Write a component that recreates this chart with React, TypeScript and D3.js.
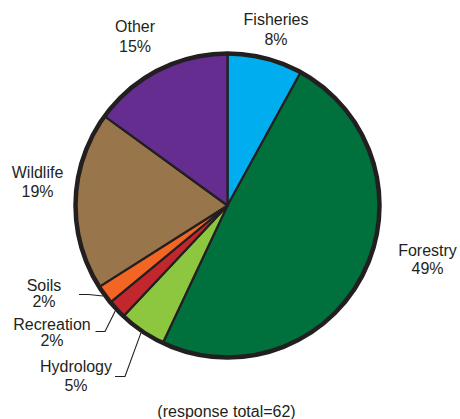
import React from "react";
import * as d3 from "d3";

// Share of responses by discipline, clockwise from 12 o'clock
const categories = ["Fisheries", "Forestry", "Hydrology", "Recreation", "Soils", "Wildlife", "Other"];
const percents = [8, 49, 5, 2, 2, 19, 15];
const colors = ["#00aeef", "#00703c", "#8dc63f", "#c1272d", "#f26522", "#98754a", "#662d91"];
const footnote = "(response total=62)";

const W = 460;
const H = 419;
const cx = 227.5;
const cy = 205.5;
const R = 152;
const ink = "#231f20";
const font = "'Liberation Sans', Arial, sans-serif";

// Label placement per category: centre x, first baseline y, line gap
type Lab = { x: number; y: number; gap: number };
const labelLayout: Record<string, Lab> = {
  Fisheries: { x: 276, y: 25, gap: 20 },
  Forestry: { x: 427.5, y: 256, gap: 18 },
  Hydrology: { x: 76, y: 372, gap: 19 },
  Recreation: { x: 52, y: 330, gap: 16 },
  Soils: { x: 44, y: 291, gap: 16 },
  Wildlife: { x: 37.5, y: 178, gap: 19 },
  Other: { x: 135, y: 32, gap: 20 },
};
// [x start, x bend, y] of the horizontal part of each leader
const leaders: Record<string, [number, number, number]> = {
  Soils: [79, 88.5, 294.5],
  Recreation: [95.5, 105, 331.5],
  Hydrology: [115, 125, 376.5],
};

export default function App() {
  const pie = d3
    .pie<number>()
    .sort(null)
    .value((d) => d)
    .startAngle(0)
    .endAngle(2 * Math.PI);
  const arcs = pie(percents);
  const arc = d3.arc<d3.PieArcDatum<number>>().innerRadius(0).outerRadius(R);

  return (
    <svg
      width={W}
      height={H}
      style={{ position: "absolute", left: 0, top: 0, background: "#fff" }}
      fontFamily={font}
    >
      <g transform={`translate(${cx},${cy})`}>
        {arcs.map((a, i) => (
          <path
            key={categories[i]}
            d={arc(a) || ""}
            fill={colors[i]}
            stroke={ink}
            strokeWidth={2.2}
            strokeLinejoin="round"
          />
        ))}
        <circle r={R} fill="none" stroke={ink} strokeWidth={4.5} />
      </g>

      {arcs.map((a, i) => {
        const name = categories[i];
        const L = leaders[name];
        if (!L) return null;
        const mid = (a.startAngle + a.endAngle) / 2;
        const px = cx + (R + 2) * Math.sin(mid);
        const py = cy - (R + 2) * Math.cos(mid);
        return (
          <polyline
            key={"l" + name}
            points={`${L[0]},${L[2]} ${L[1]},${L[2]} ${px},${py}`}
            fill="none"
            stroke={ink}
            strokeWidth={1.1}
          />
        );
      })}

      {categories.map((name, i) => {
        const l = labelLayout[name];
        return (
          <text key={"t" + name} textAnchor="middle" fontSize={16} fill={ink}>
            <tspan x={l.x} y={l.y}>
              {name}
            </tspan>
            <tspan x={l.x} y={l.y + l.gap}>
              {percents[i]}%
            </tspan>
          </text>
        );
      })}

      <text x={226.5} y={416.5} textAnchor="middle" fontSize={16} fill={ink}>
        {footnote}
      </text>
    </svg>
  );
}
